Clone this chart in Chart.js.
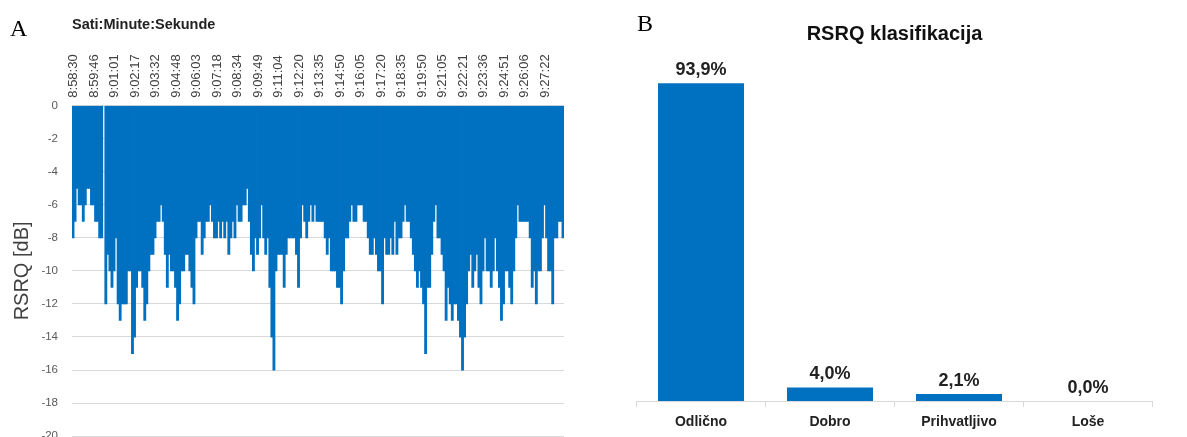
<!DOCTYPE html>
<html>
<head>
<meta charset="utf-8">
<script src="https://cdn.jsdelivr.net/npm/chart.js@4/dist/chart.umd.min.js"></script>
<style>
  html, body { margin: 0; padding: 0; background: #fff; overflow: hidden; }
  #wrap { position: relative; width: 1187px; height: 437px; overflow: hidden; }
  #left { position: absolute; left: 0; top: 0; }
  #right { position: absolute; left: 620px; top: 0; }
  .tag { position: absolute; font-family: 'Liberation Serif', 'Times New Roman', serif; font-size: 24px; line-height: 1; color: #000; }
</style>
</head>
<body>
<div id="wrap">
  <canvas id="left" width="580" height="457"></canvas>
  <canvas id="right" width="567" height="437"></canvas>
  <div class="tag" style="left:10px; top:16px;">A</div>
  <div class="tag" style="left:637px; top:11px;">B</div>
</div>
<script>
// time ticks shown on the top axis (every 10th sample)
const timeTicks = ['8:58:30', '8:59:46', '9:01:01', '9:02:17', '9:03:32', '9:04:48', '9:06:03', '9:07:18',
  '9:08:34', '9:09:49', '9:11:04', '9:12:20', '9:13:35', '9:14:50', '9:16:05', '9:17:20',
  '9:18:35', '9:19:50', '9:21:05', '9:22:21', '9:23:36', '9:24:51', '9:26:06', '9:27:22'];

// RSRQ samples [dB]
const rsrq = [
  -8, -7, -5, -6, -6, -7, -6, -5, -5, -6,
  -6, -7, -7, -8, -8, null, -12, -9, -10, -11,
  -10, -8, -12, -13, -12, -12, -12, -10, -10, -15,
  -14, -11, -10, -10, -11, -13, -12, -10, -9, -9,
  -8, -7, -7, -6, -7, -9, -11, -9, -10, -10,
  -11, -13, -12, -10, -10, -9, -9, -10, -11, -12,
  -8, -7, -7, -9, -8, -7, -7, -6, -7, -8,
  -8, -7, -8, -7, -8, -7, -9, -8, -7, -8,
  -6, -7, -7, -6, -6, -5, -7, -9, -10, -8,
  -9, -8, -6, -8, -9, -8, -11, -14, -16, -10,
  -9, -9, -9, -11, -9, -8, -8, -8, -8, -9,
  -11, -8, -6, -7, -8, -7, -6, -7, -6, -7,
  -7, -7, -7, -8, -9, -8, -10, -10, -10, -11,
  -11, -12, -10, -8, -8, -7, -6, -7, -7, -6,
  -6, -6, -7, -7, -8, -9, -9, -8, -9, -10,
  -10, -12, -8, -9, -9, -8, -9, -7, -9, -8,
  -8, -7, -6, -7, -7, -8, -9, -10, -11, -10,
  -11, -12, -15, -11, -11, -9, -7, -6, -8, -8,
  -9, -10, -13, -11, -12, -13, -12, -12, -13, -14,
  -16, -14, -12, -10, -9, -11, -10, -9, -11, -12,
  -10, -8, -10, -10, -11, -10, -8, -10, -11, -13,
  -12, -10, -10, -11, -12, -10, -8, -6, -7, -7,
  -7, -7, -7, -8, -11, -10, -12, -10, -10, -8,
  -6, -8, -10, -10, -12, -8, -8, -7, -7, -8
];

// classification
const classes = ['Odlično', 'Dobro', 'Prihvatljivo', 'Loše'];
const shares = [93.9, 4.0, 2.1, 0.0];

const FONT = "'Liberation Sans', Arial, sans-serif";
const BLUE = '#0070C0';

const timeLabels = rsrq.map((v, i) => (i % 10 === 0 ? timeTicks[i / 10] : ''));

new Chart(document.getElementById('left'), {
  type: 'bar',
  data: {
    labels: timeLabels,
    datasets: [{
      data: rsrq,
      backgroundColor: BLUE,
      borderWidth: 0,
      barPercentage: 1,
      categoryPercentage: 1,
      inflateAmount: 0.4
    }]
  },
  options: {
    responsive: false,
    animation: false,
    layout: { padding: { left: 6, top: 0, right: 16, bottom: 8 } },
    plugins: { legend: { display: false }, tooltip: { enabled: false } },
    scales: {
      x: {
        position: 'top',
        grid: { display: false },
        border: { display: false },
        ticks: {
          autoSkip: false, minRotation: 90, maxRotation: 90, padding: 0, labelOffset: 16,
          color: '#404040', font: { family: FONT, size: 13 }
        },
        title: {
          display: true, text: 'Sati:Minute:Sekunde', align: 'start', color: '#222',
          font: { family: FONT, size: 14.5, weight: 'bold' }, padding: { top: 16, bottom: 0 }
        },
        afterFit: s => { s.height = 105.7; }
      },
      y: {
        min: -20, max: 0,
        grid: { color: '#d9d9d9', drawTicks: false },
        border: { display: false },
        ticks: { stepSize: 2, padding: 14, color: '#595959', font: { family: FONT, size: 11.5 } },
        title: {
          display: true, text: 'RSRQ [dB]', color: '#404040',
          font: { family: FONT, size: 20 }, padding: { top: 4, bottom: 0 }
        },
        afterFit: s => { s.width = 66; }
      }
    }
  }
});

// value labels above bars
const barLabels = {
  id: 'barLabels',
  afterDatasetsDraw(chart) {
    const ctx = chart.ctx;
    const meta = chart.getDatasetMeta(0);
    ctx.save();
    ctx.font = 'bold 18px ' + FONT;
    ctx.fillStyle = '#222';
    ctx.textAlign = 'center';
    ctx.textBaseline = 'alphabetic';
    meta.data.forEach((bar, i) => {
      ctx.fillText(shares[i].toFixed(1).replace('.', ',') + '%', bar.x, bar.y - 8);
    });
    ctx.restore();
  }
};

new Chart(document.getElementById('right'), {
  type: 'bar',
  data: {
    labels: classes,
    datasets: [{
      data: shares,
      backgroundColor: BLUE,
      borderWidth: 0,
      barPercentage: 0.667,
      categoryPercentage: 1
    }]
  },
  options: {
    responsive: false,
    animation: false,
    layout: { padding: { left: 16.5, right: 34.5, top: 22, bottom: 0 } },
    plugins: {
      legend: { display: false },
      tooltip: { enabled: false },
      title: {
        display: true, text: 'RSRQ klasifikacija', color: '#111',
        font: { family: FONT, size: 20, weight: 'bold' }, padding: { top: 0, bottom: 16.7 }
      }
    },
    scales: {
      x: {
        grid: { display: true, drawOnChartArea: false, color: '#d9d9d9', tickLength: 6 },
        border: { color: '#d9d9d9' },
        ticks: { padding: 7, color: '#222', font: { family: FONT, size: 14, weight: 'bold' } },
        afterFit: s => { s.height = 36; }
      },
      y: { display: false, min: 0, max: 100 }
    }
  },
  plugins: [barLabels]
});
</script>
</body>
</html>
